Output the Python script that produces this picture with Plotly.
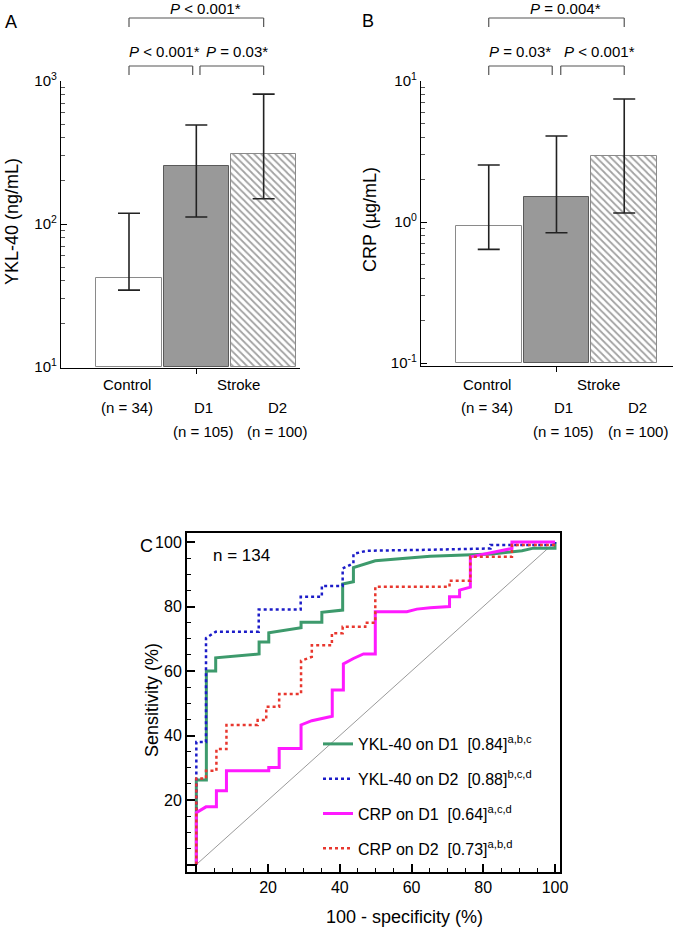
import math
import plotly.graph_objects as go

# ---- data -------------------------------------------------------------
groups = ["Control", "D1", "D2"]

# panel A: YKL-40 (ng/mL), median with interquartile range
ykl_mid = [42, 255, 311]
ykl_lo = [34.5, 112, 150]
ykl_hi = [119, 492, 810]
ykl_p = ["<i>P</i> < 0.001*", "<i>P</i> = 0.03*", "<i>P</i> < 0.001*"]

# panel B: CRP (ug/mL)
crp_mid = [0.94, 1.50, 2.94]
crp_lo = [0.64, 0.84, 1.16]
crp_hi = [2.54, 4.07, 7.45]
crp_p = ["<i>P</i> = 0.03*", "<i>P</i> < 0.001*", "<i>P</i> = 0.004*"]

# panel C: ROC curves (100 - specificity, sensitivity)
ykl_d1_x = [0, 0, 2.8, 2.8, 5.4, 5.4, 17.5, 17.5, 20.2, 20.2, 29.2, 29.2, 35, 35, 40.8, 40.8,
            43.8, 43.8, 49.9, 65.2, 82.5, 90.8, 94, 100, 100]
ykl_d1_y = [0, 26.2, 26.2, 60, 60, 64.1, 65.3, 69, 69, 71.9, 73.4, 75.1, 75.1, 78.2, 78.9, 87,
            87.7, 92.1, 94.2, 95.6, 96.3, 97.3, 98.1, 98.1, 100]

ykl_d2_x = [0, 0, 2.7, 2.7, 5.4, 17.4, 17.4, 29.1, 29.1, 35, 35, 40.8, 40.8, 43.8, 43.8, 47.5,
            65, 82, 82, 100, 100]
ykl_d2_y = [0, 38, 38, 70.2, 72.2, 72.2, 79.1, 79.1, 83, 83, 86.4, 86.4, 91.8, 93.4, 96.3, 97.3,
            97.6, 98, 99.1, 99.1, 100]

crp_d1_x = [0, 0, 2.7, 5.6, 5.6, 8.4, 8.4, 20.2, 20.2, 23.1, 23.1, 29.2, 29.2, 32.2, 37.9, 37.9,
            41, 41, 43.8, 46.6, 49.9, 49.9, 58.7, 61.5, 65.2, 70.6, 70.6, 73.4, 73.4, 76.4, 76.4,
            88, 88, 100]
crp_d1_y = [0, 16.1, 17.9, 17.9, 22.9, 22.9, 29.1, 29.1, 30.1, 30.1, 36, 36, 43.3, 44.6, 46, 54.1,
            54.1, 62.2, 63.9, 65.3, 65.3, 78.4, 78.4, 79.2, 79.6, 80, 83, 83, 85.1, 86, 95.4,
            98, 100, 100]

crp_d2_x = [0, 0, 2.7, 2.7, 5.6, 5.6, 8.4, 8.4, 17.1, 17.1, 19.5, 19.5, 23.1, 23.1, 29.2, 29.2,
            32.2, 32.2, 37.8, 37.8, 40.8, 40.8, 47.1, 47.1, 49.9, 49.9, 70.6, 70.6, 76.4, 76.4,
            88, 88, 100, 100]
crp_d2_y = [0, 26.7, 26.7, 29.1, 29.1, 35.8, 35.8, 43.3, 43.3, 44.8, 44.8, 48.9, 48.9, 52.9, 52.9,
            63.2, 64.4, 68, 68, 71.7, 71.7, 73.7, 73.7, 75, 75, 86.1, 86.1, 88, 88, 95.4, 95.4,
            99.1, 99.1, 100]

roc_names = [
    "YKL-40 on D1&nbsp; [0.84]<sup>a,b,c</sup>",
    "YKL-40 on D2&nbsp; [0.88]<sup>b,c,d</sup>",
    "CRP on D1&nbsp; [0.64]<sup>a,c,d</sup>",
    "CRP on D2&nbsp; [0.73]<sup>a,b,d</sup>",
]

FONT = "Liberation Sans, Arial, Helvetica, sans-serif"
W, H = 683, 934


def px(p):
    return p / W


def py(p):
    return 1 - p / H


fig = go.Figure()

bar_fill = ["white", "#999999", "white"]
bar_line = ["#8a8a8a", "#5a5a5a", "#8a8a8a"]
bar_shape = ["", "", "\\"]


def add_bar_panel(mid, lo, hi, base, xa, ya):
    pos = list(range(len(groups)))
    fig.add_trace(go.Bar(
        x=pos, y=[m - base for m in mid], base=base, width=0.97,
        xaxis=xa, yaxis=ya, showlegend=False, hoverinfo="skip",
        marker=dict(color=bar_fill, line=dict(color=bar_line, width=1),
                    pattern=dict(shape=bar_shape, fgcolor="#666666", bgcolor="white",
                                 size=5, solidity=0.35)),
    ))
    fig.add_trace(go.Scatter(
        x=pos, y=mid, mode="markers", xaxis=xa, yaxis=ya, showlegend=False,
        marker=dict(size=1, color="rgba(0,0,0,0)"),
        error_y=dict(type="data", symmetric=False,
                     array=[h - m for h, m in zip(hi, mid)],
                     arrayminus=[m - l for m, l in zip(mid, lo)],
                     color="#222222", thickness=1.6, width=11),
    ))


add_bar_panel(ykl_mid, ykl_lo, ykl_hi, 10, "x", "y")
add_bar_panel(crp_mid, crp_lo, crp_hi, 0.1, "x2", "y2")

# ROC curves
fig.add_trace(go.Scatter(x=[0, 100], y=[0, 100], mode="lines", xaxis="x3", yaxis="y3",
                         line=dict(color="#9a9a9a", width=1), showlegend=False,
                         hoverinfo="skip"))
roc = [
    (ykl_d1_x, ykl_d1_y, dict(color="#3d9a6c", width=3)),
    (ykl_d2_x, ykl_d2_y, dict(color="#1c1cc8", width=2.5, dash="dot")),
    (crp_d1_x, crp_d1_y, dict(color="#ff1aff", width=3)),
    (crp_d2_x, crp_d2_y, dict(color="#e8372e", width=2.5, dash="dot")),
]
for i, (xs, ys, ln) in enumerate(roc):
    fig.add_trace(go.Scatter(x=xs, y=ys, mode="lines", xaxis="x3", yaxis="y3", line=ln,
                             name=roc_names[i], legendgroup="g%d" % i))

# ---- axes ---------------------------------------------------------------
tickfont = dict(family=FONT, size=15, color="black")


def log_axis(dom, rng, vals, minor_vals, anchor):
    return dict(type="log", domain=dom, range=rng, anchor=anchor, automargin=False,
                showline=True, linecolor="black",
                linewidth=1.3, ticks="inside", ticklen=6, tickwidth=1.2, tickcolor="black",
                tickvals=vals,
                ticktext=["10<sup>%d</sup>" % round(math.log10(v)) for v in vals],
                tickfont=tickfont, showgrid=False, zeroline=False,
                minor=dict(tickvals=minor_vals, ticks="inside", ticklen=4, tickwidth=1,
                           tickcolor="#555555", showgrid=False))


def cat_axis(dom, rng, anchor):
    return dict(domain=dom, range=rng, anchor=anchor, automargin=False, showline=True,
                linecolor="black",
                linewidth=1.3, ticks="outside", ticklen=5, tickwidth=1.2, tickcolor="black",
                tickvals=[1], showticklabels=False, showgrid=False, zeroline=False)


def roc_axis(dom, rng, anchor):
    return dict(domain=dom, range=rng, anchor=anchor, automargin=False,
                showline=True, mirror=True, linecolor="black", linewidth=2,
                ticks="inside", ticklen=8, tickwidth=1.5, tickcolor="black",
                tickvals=[0, 20, 40, 60, 80, 100], ticktext=["", "20", "40", "60", "80", "100"],
                tickfont=dict(family=FONT, size=16, color="black"), showgrid=False,
                zeroline=False,
                minor=dict(tickvals=[5, 10, 15, 25, 30, 35, 45, 50, 55, 65, 70, 75, 85, 90, 95],
                           ticks="inside", ticklen=4, tickwidth=1.2, tickcolor="black"))


fig.update_layout(
    xaxis=cat_axis([px(61), px(300)], [-1.01, 2.54], "y"),
    yaxis=log_axis([py(368), py(81)], [0.993, 3.0], [10, 100, 1000],
                   [20, 30, 40, 50, 60, 70, 80, 90, 200, 300, 400, 500, 600, 700, 800, 900], "x"),
    xaxis2=cat_axis([px(421), px(673)], [-1.0, 2.72], "y2"),
    yaxis2=log_axis([py(366), py(81)], [-1.021, 1.0], [0.1, 1, 10],
                    [0.2, 0.3, 0.4, 0.5, 0.6, 0.7, 0.8, 0.9, 2, 3, 4, 5, 6, 7, 8, 9], "x2"),
    xaxis3=roc_axis([px(187), px(560)], [-2.6, 101.4], "y3"),
    yaxis3=roc_axis([py(872), py(533)], [-2.3, 102.8], "x3"),
)

# ---- brackets and text ----------------------------------------------------
shapes = []
annotations = []


def txt(x, y, s, size=15, xref="paper", yref="paper", angle=0):
    annotations.append(dict(x=x, y=y, xref=xref, yref=yref, text=s, showarrow=False,
                            textangle=angle, xanchor="center", yanchor="middle",
                            font=dict(family=FONT, size=size, color="black")))


def bracket(xref, x0, x1, ytop, ybot):
    for xa, ya, xb, yb in [(x0, ybot, x0, ytop), (x0, ytop, x1, ytop), (x1, ytop, x1, ybot)]:
        shapes.append(dict(type="line", xref=xref, yref="paper", x0=xa, x1=xb,
                           y0=py(ya), y1=py(yb), line=dict(color="#555555", width=1.2)))


for xref, pvals, lx, offs in [("x", ykl_p, 0.946, [0.53, 1.6, 1.14]),
                               ("x2", crp_p, 0.937, [0.46, 1.64, 1.13])]:
    bracket(xref, 0, lx, 66, 75)
    bracket(xref, 2 - lx, 2, 66, 75)
    bracket(xref, 0, 2, 18, 27)
    txt(offs[0], py(52), pvals[0], xref=xref)
    txt(offs[1], py(52), pvals[1], xref=xref)
    txt(offs[2], py(9), pvals[2], xref=xref)
    # category labels
    txt(-0.03, py(384), groups[0], xref=xref)
    txt(-0.03, py(408), "(n = 34)", xref=xref)
    txt(1.62, py(384), "Stroke", xref=xref)
    txt(1.1, py(408), groups[1], xref=xref)
    txt(2.2, py(408), groups[2], xref=xref)
    txt(1.1, py(432), "(n = 105)", xref=xref)
    txt(2.2, py(432), "(n = 100)", xref=xref)

txt(px(11), py(22), "A", size=18)
txt(px(368), py(21), "B", size=18)
txt(px(146), py(546), "C", size=18)
txt(px(12), py(222), "YKL-40 (ng/mL)", size=18, angle=-90)
txt(px(370), py(220), "CRP (µg/mL)", size=18, angle=-90)
txt(px(152), py(700), "Sensitivity (%)", size=18, angle=-90)
txt(px(404), py(917), "100 - specificity (%)", size=18)
txt(px(241), py(555), "n = 134", size=17)

fig.update_layout(
    width=W, height=H, margin=dict(l=0, r=0, t=0, b=0, pad=0, autoexpand=False),
    paper_bgcolor="white", plot_bgcolor="white",
    font=dict(family=FONT, color="black"),
    shapes=shapes, annotations=annotations, bargap=0,
    legend=dict(x=px(318), y=py(727), xanchor="left", yanchor="top",
                bgcolor="rgba(0,0,0,0)", font=dict(family=FONT, size=16, color="black"),
                traceorder="grouped", tracegroupgap=11, itemwidth=30),
)

# drop the browser's default 8 px body margin so the figure sits at the page origin
fig.write_html("out.html", config={"displayModeBar": False},
               post_script="document.body.style.margin='0px';")
